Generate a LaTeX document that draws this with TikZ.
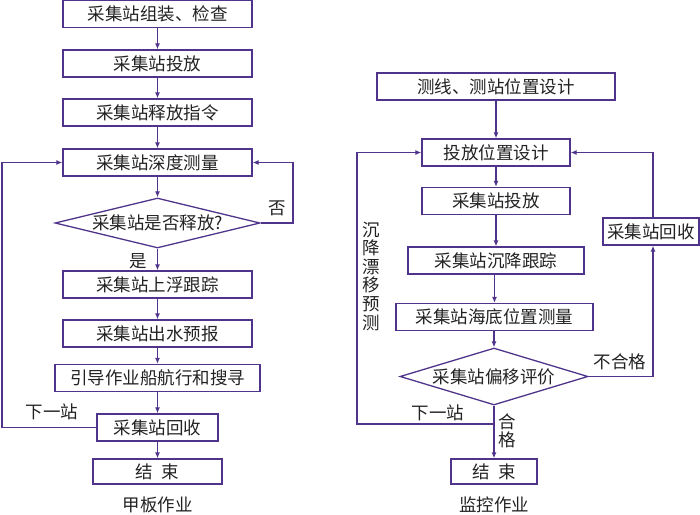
\documentclass[tikz,border=0pt]{standalone}
\usepackage{fontspec}
\setmainfont{Noto Sans CJK SC}
\usetikzlibrary{shapes.geometric,arrows.meta}
\definecolor{lc}{RGB}{80,52,140}
\definecolor{tc}{RGB}{34,34,34}
\begin{document}
\begin{tikzpicture}[x=1pt,y=-1pt,
  every node/.style={text=tc,font=\fontsize{17.5}{20}\selectfont,inner sep=0pt},
  box/.style={draw=lc,line width=1.3pt,rectangle,minimum height=27pt},
  dia/.style={draw=lc,line width=1.3pt,diamond},
  line/.style={draw=lc,line width=1.3pt},
  arr/.style={line,-{Latex[length=6pt,width=5pt]}},
  lbl/.style={}
]
\useasboundingbox (0,0) rectangle (700,514);
% left column
\node[box,minimum width=189pt] (l1) at (157.5,14) {采集站组装、检查};
\node[box,minimum width=189pt] (l2) at (157.5,63.5) {采集站投放};
\node[box,minimum width=189pt] (l3) at (157.5,112.5) {采集站释放指令};
\node[box,minimum width=189pt] (l4) at (157.5,162.5) {采集站深度测量};
\node[dia,minimum width=205pt,minimum height=50pt,label={[anchor=center]center:采集站是否释放?}] (ld) at (157.5,223) {};
\node[box,minimum width=189pt] (l5) at (157.5,284.5) {采集站上浮跟踪};
\node[box,minimum width=189pt] (l6) at (157.5,333.5) {采集站出水预报};
\node[box,minimum width=205pt] (l7) at (157.5,378) {引导作业船航行和搜寻};
\node[box,minimum width=121pt] (l8) at (157.5,427.5) {采集站回收};
\node[box,minimum width=129pt,minimum height=25pt] (l9) at (157.5,471.5) {结\hspace{9pt}束};
\node (lcap) at (157.5,505) {甲板作业};
\draw[arr] (l1) -- (l2);
\draw[arr] (l2) -- (l3);
\draw[arr] (l3) -- (l4);
\draw[arr] (l4) -- (ld);
\draw[arr] (ld) -- (l5);
\draw[arr] (l5) -- (l6);
\draw[arr] (l6) -- (l7);
\draw[arr] (l7) -- (l8);
\draw[arr] (l8) -- (l9);
\coordinate (lr1) at (293,223);
\coordinate (lr2) at (293,162.5);
\draw[arr] (ld.east) -- (lr1) -- (lr2) -- (l4.east);
\coordinate (ll1) at (2,427.5);
\coordinate (ll2) at (2,162.5);
\draw[arr] (l8.west) -- (ll1) -- (ll2) -- (l4.west);
\node[lbl] (tno) at (277,208) {否};
\node[lbl] (tyes) at (138,261) {是};
\node[lbl] (tnext1) at (52,412) {下一站};
% right column
\node[box,minimum width=238pt] (r1) at (496,86.5) {测线、测站位置设计};
\node[box,minimum width=148pt] (r2) at (496,152.5) {投放位置设计};
\node[box,minimum width=148pt] (r3) at (496,201) {采集站投放};
\node[box,minimum width=176pt] (r4) at (496,260.5) {采集站沉降跟踪};
\node[box,minimum width=197pt] (r5) at (494.5,317) {采集站海底位置测量};
\node[dia,minimum width=188pt,minimum height=57pt,label={[anchor=center]center:采集站偏移评价}] (rd) at (494,376.5) {};
\node[box,minimum width=86pt,minimum height=25pt] (r6) at (494,471.5) {结\hspace{9pt}束};
\node[box,minimum width=96pt] (rr) at (651,231.5) {采集站回收};
\node (rcap) at (494,505) {监控作业};
\draw[arr] (r1.south -| r2) -- (r2);
\draw[arr] (r2) -- (r3);
\draw[arr] (r3) -- (r4);
\draw[arr] (r4.south -| r5) -- (r5);
\draw[arr] (r5.south -| rd) -- (rd);
\draw[arr] (rd) -- (r6);
\coordinate (rj) at (494,424);
\coordinate (rl1) at (357,424);
\coordinate (rl2) at (357,152.5);
\draw[arr] (rj) -- (rl1) -- (rl2) -- (r2.west);
\coordinate (rr1) at (653,376.5);
\draw[arr] (rd.east) -- (rr1) -- (rr1 |- rr.south);
\coordinate (rr2) at (653,152.5);
\draw[arr] (rr.north -| rr1) -- (rr2) -- (r2.east);
\node[lbl] (tbad) at (620,362) {不合格};
\node[lbl] (tnext2) at (438,413) {下一站};
\node[lbl,align=center,font=\fontsize{17.5}{18}\selectfont] (tok) at (507,431) {合\\格};
\node[lbl,align=center,font=\fontsize{17.5}{18.6}\selectfont] (tpred) at (371,276) {沉\\降\\漂\\移\\预\\测};
\end{tikzpicture}
\end{document}
